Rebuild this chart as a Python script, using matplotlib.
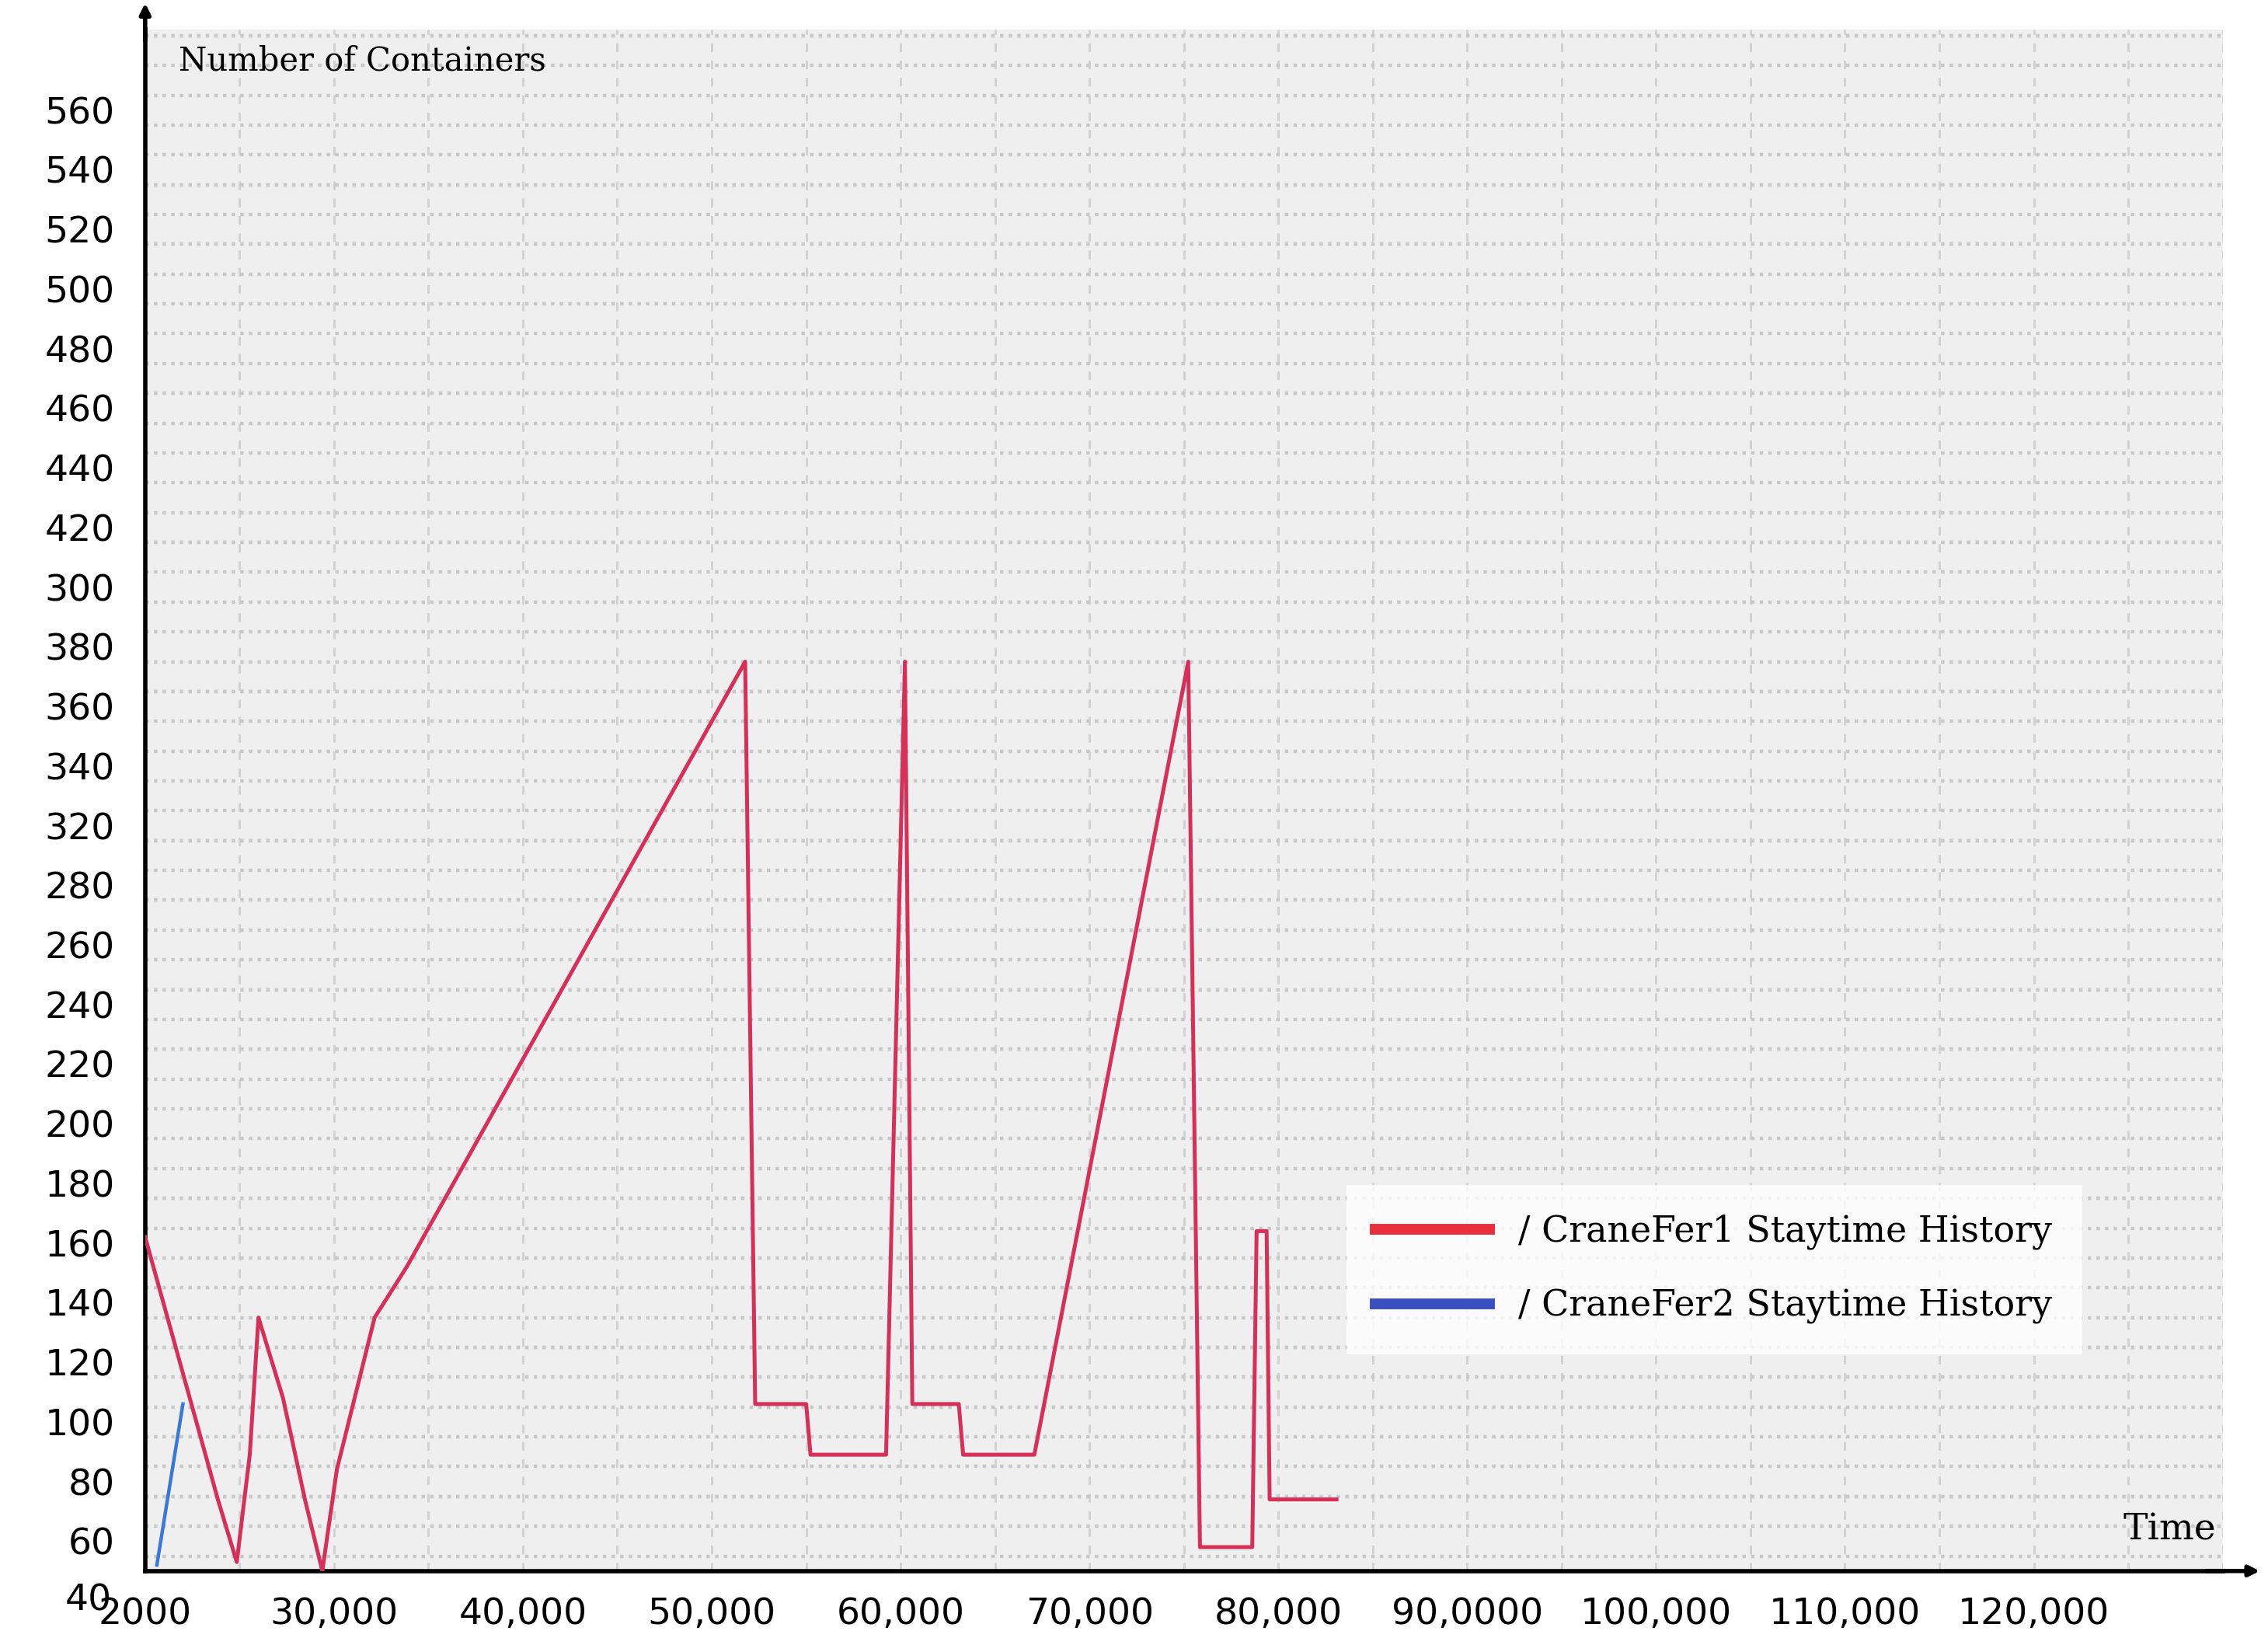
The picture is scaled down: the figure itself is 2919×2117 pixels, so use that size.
import matplotlib
matplotlib.use("Agg")
import matplotlib.pyplot as plt
from matplotlib.lines import Line2D

red_x = [20000, 23850, 24850, 25540, 26000, 27300, 28460, 29380, 30150, 32150, 33850, 51770, 52300, 55000, 55230, 59230, 60230, 60620, 63080, 63310, 67080, 75230, 75850, 78620, 78850, 79380, 79540, 83080]
red_y = [162, 74, 53, 89, 135, 108, 74, 50, 84, 135, 152, 355, 106, 106, 89, 89, 355, 106, 106, 89, 89, 355, 58, 58, 164, 164, 74, 74]
blue_x = [20620, 22000]
blue_y = [52, 106]

x_ticks = [20000, 30000, 40000, 50000, 60000, 70000, 80000, 90000, 100000, 110000, 120000]
x_labels = ["2000", "30,000", "40,000", "50,000", "60,000", "70,000", "80,000", "90,0000", "100,000", "110,000", "120,000"]
y_labels = ["40", "60", "80", "100", "120", "140", "160", "180", "200", "220", "240", "260", "280",
            "320", "340", "360", "380", "300", "420", "440", "460", "480", "500", "520", "540", "560"]

fig = plt.figure(figsize=(14.595, 10.585), dpi=200)
ax = fig.add_axes([0.064, 0.045, 0.916, 0.937])
ax.set_facecolor("#efefef")
ax.set_xlim(20000, 130000)
ax.set_ylim(50, 567)

for gx in range(25000, 130001, 5000):
    ax.axvline(gx, color="#d0d0d0", lw=1.0, ls=(0, (4, 4)), zorder=0)
for gy in range(55, 567, 10):
    ax.axhline(gy, color="#c8c8c8", lw=1.6, ls=(0, (1, 1.5)), zorder=0)

ax.plot(red_x, red_y, color="#d6305a", lw=1.8, zorder=3)
ax.plot(blue_x, blue_y, color="#3a78d8", lw=1.6, zorder=3)

ax.set_xticks(x_ticks)
ax.set_xticklabels(x_labels, fontsize=17)
ax.set_yticks([40 + 20 * i for i in range(1, 26)])
ax.set_yticklabels(y_labels[1:], fontsize=17)
ax.text(-0.016, 40, "40", transform=ax.get_yaxis_transform(), ha="right", va="center",
        fontsize=17, clip_on=False)
ax.tick_params(axis="y", length=0, pad=14)
ax.tick_params(axis="x", length=0, pad=12)
for s in ["top", "right"]:
    ax.spines[s].set_visible(False)
ax.spines["left"].set_linewidth(2)
ax.spines["bottom"].set_linewidth(2)
ax.annotate("", xy=(0, 1.02), xytext=(0, 0.99), xycoords="axes fraction",
            arrowprops=dict(arrowstyle="-|>", color="black", lw=2), annotation_clip=False)
ax.annotate("", xy=(1.02, 0), xytext=(0.99, 0), xycoords="axes fraction",
            arrowprops=dict(arrowstyle="-|>", color="black", lw=2), annotation_clip=False)

ax.text(0.016, 0.99, "Number of Containers", transform=ax.transAxes, fontsize=15,
        family="DejaVu Serif", va="top")
ax.text(0.997, 0.015, "Time", transform=ax.transAxes, fontsize=17,
        family="DejaVu Serif", ha="right", va="bottom")

handles = [Line2D([], [], color="#e8303c", lw=5), Line2D([], [], color="#3a4fc0", lw=5)]
leg = ax.legend(handles, ["/ CraneFer1 Staytime History", "/ CraneFer2 Staytime History"],
                loc="lower left", bbox_to_anchor=(0.57, 0.13),
                prop={"family": "DejaVu Serif", "size": 16.5}, frameon=True, fancybox=False,
                handlelength=3.2, labelspacing=1.1, borderpad=0.8)
leg.get_frame().set_edgecolor("white")
leg.get_frame().set_facecolor("white")

fig.savefig("out.png", dpi=200)
